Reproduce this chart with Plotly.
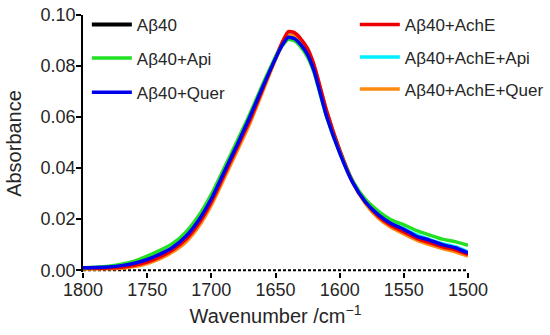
import plotly.graph_objects as go

wavenumber = [1800, 1790, 1780, 1770, 1760, 1750, 1740, 1730, 1720, 1710, 1700,
              1690, 1680, 1670, 1660, 1650, 1645, 1640, 1635, 1630, 1625, 1620,
              1610, 1600, 1590, 1580, 1570, 1560, 1550, 1540, 1530, 1520, 1510, 1500]

ab40 = [0.0] * len(wavenumber)

ab40_quer = [0.0010, 0.0011, 0.0013, 0.0018, 0.0027, 0.0042, 0.0063, 0.0090, 0.0132, 0.0195, 0.0280,
             0.0385, 0.0490, 0.0600, 0.0718, 0.0830, 0.0880, 0.0912, 0.0907, 0.0882, 0.0845, 0.0782,
             0.0600, 0.0460, 0.0345, 0.0268, 0.0218, 0.0183, 0.0160, 0.0133, 0.0118, 0.0100, 0.0088, 0.0068]

ab40_api = [0.0010, 0.0012, 0.0016, 0.0023, 0.0035, 0.0055, 0.0078, 0.0105, 0.0148, 0.0212, 0.0297,
            0.0400, 0.0505, 0.0612, 0.0728, 0.0835, 0.0878, 0.0905, 0.0898, 0.0873, 0.0835, 0.0775,
            0.0598, 0.0462, 0.0350, 0.0278, 0.0232, 0.0198, 0.0178, 0.0155, 0.0138, 0.0122, 0.0112, 0.0098]

ab40_ache = [0.0008, 0.0008, 0.0009, 0.0012, 0.0019, 0.0032, 0.0052, 0.0080, 0.0120, 0.0182, 0.0268,
             0.0373, 0.0480, 0.0587, 0.0710, 0.0833, 0.0890, 0.0935, 0.0930, 0.0905, 0.0868, 0.0805,
             0.0622, 0.0472, 0.0350, 0.0268, 0.0212, 0.0175, 0.0150, 0.0125, 0.0108, 0.0092, 0.0080, 0.0062]

ab40_ache_api = [0.0008, 0.0009, 0.0011, 0.0015, 0.0023, 0.0037, 0.0058, 0.0085, 0.0126, 0.0188, 0.0274,
                 0.0379, 0.0485, 0.0594, 0.0714, 0.0831, 0.0885, 0.0922, 0.0918, 0.0893, 0.0855, 0.0792,
                 0.0611, 0.0466, 0.0348, 0.0270, 0.0220, 0.0185, 0.0162, 0.0138, 0.0120, 0.0104, 0.0092, 0.0072]

ab40_ache_quer = [0.0005, 0.0005, 0.0006, 0.0008, 0.0014, 0.0026, 0.0045, 0.0072, 0.0110, 0.0170, 0.0255,
                  0.0360, 0.0467, 0.0575, 0.0700, 0.0825, 0.0880, 0.0920, 0.0918, 0.0898, 0.0862, 0.0800,
                  0.0620, 0.0468, 0.0345, 0.0262, 0.0205, 0.0168, 0.0142, 0.0118, 0.0100, 0.0085, 0.0072, 0.0055]

font_family = "Liberation Sans, Arial, sans-serif"
text_color = "#262626"

# (name, values, color, legend id, legend x (paper), legend y (paper))
series = [
    ("Aβ40", ab40, "#000000", "legend", 0.010, 0.961),
    ("Aβ40+AchE+Api", ab40_ache_api, "#00f0ff", "legend5", 0.706, 0.835),
    ("Aβ40+AchE+Quer", ab40_ache_quer, "#ff8c10", "legend6", 0.706, 0.710),
    ("Aβ40+AchE", ab40_ache, "#ee0000", "legend4", 0.706, 0.961),
    ("Aβ40+Api", ab40_api, "#22e022", "legend2", 0.010, 0.831),
    ("Aβ40+Quer", ab40_quer, "#0000ee", "legend3", 0.010, 0.698),
]

fig = go.Figure()
layout_legends = {}
for name, vals, color, leg, lx, ly in series:
    if name == "Aβ40":
        # dashed zero-line data trace (no legend entry)
        fig.add_trace(go.Scatter(x=wavenumber, y=vals, mode="lines", name=name,
                                 line=dict(color=color, width=2, dash="3px,2px"),
                                 showlegend=False, legend=leg))
        # legend proxy with solid swatch as in the reference
        fig.add_trace(go.Scatter(x=[None], y=[None], mode="lines", name=name,
                                 line=dict(color=color, width=4), legend=leg))
    else:
        fig.add_trace(go.Scatter(x=wavenumber, y=vals, mode="lines", name=name,
                                 line=dict(color=color, width=3.5, shape="spline", smoothing=0.6),
                                 legend=leg))
    layout_legends[leg] = dict(x=lx, y=ly, xanchor="left", yanchor="middle",
                               bgcolor="rgba(0,0,0,0)", borderwidth=0,
                               font=dict(family=font_family, size=17, color=text_color),
                               itemwidth=40)

fig.update_layout(
    width=550, height=335,
    margin=dict(l=83, r=82, t=15, b=63, autoexpand=False),
    paper_bgcolor="white", plot_bgcolor="white",
    font=dict(family=font_family, color=text_color),
    showlegend=True,
    **layout_legends,
)

fig.update_xaxes(
    range=[1800, 1500], tickvals=[1800, 1750, 1700, 1650, 1600, 1550, 1500],
    showgrid=False, zeroline=False, showline=False, automargin=False,
    ticks="outside", ticklen=5, tickwidth=1.5, tickcolor="black",
    ticklabelstandoff=-4,
    tickfont=dict(family=font_family, size=18, color=text_color),
    title=dict(text="Wavenumber /cm<sup>−1</sup>", standoff=10,
               font=dict(family=font_family, size=20, color=text_color)),
)
fig.update_yaxes(
    range=[-0.0007, 0.1], tickvals=[0, 0.02, 0.04, 0.06, 0.08, 0.10], tickformat=".2f",
    showgrid=False, zeroline=False, showline=True, linecolor="black", linewidth=1.5,
    ticks="outside", ticklen=5, tickwidth=1.5, tickcolor="black", automargin=False,
    ticklabelstandoff=-3,
    tickfont=dict(family=font_family, size=18, color=text_color),
    title=dict(text="Absorbance", standoff=14,
               font=dict(family=font_family, size=20, color=text_color)),
)

fig.write_html("out.html", config={"displayModeBar": False},
               post_script="document.body.style.margin='0px';")
